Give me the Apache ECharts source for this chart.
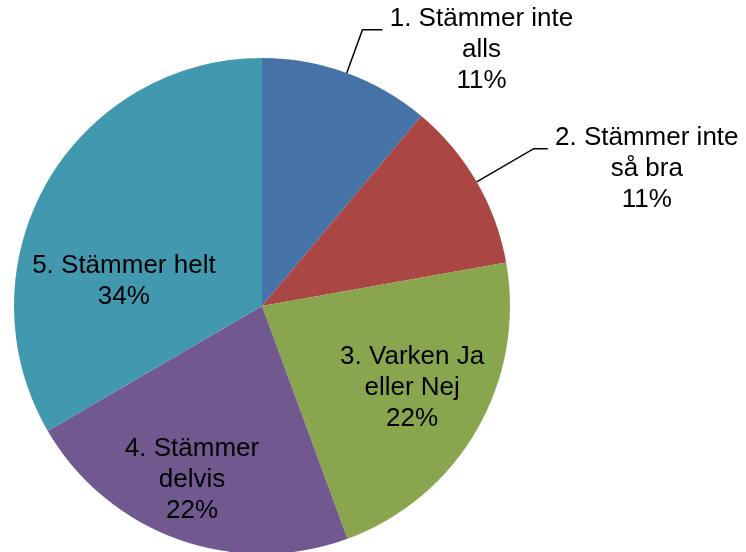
<!DOCTYPE html>
<html>
<head>
<meta charset="utf-8">
<script src="https://cdn.jsdelivr.net/npm/echarts@6/dist/echarts.min.js"></script>
<style>
  html, body { margin: 0; padding: 0; background: #fff; }
  #pieChart { width: 746px; height: 552px; }
</style>
</head>
<body>
<div id="pieChart"></div>
<script>
// svarsalternativ, som de står i diagrammet
const categories = [
  '1. Stämmer inte\nalls',
  '2. Stämmer inte\nså bra',
  '3. Varken Ja\neller Nej',
  '4. Stämmer\ndelvis',
  '5. Stämmer helt'
]
// andel (läst från tårtbitarnas vinklar)
const shares = [11.1, 11.1, 22.2, 22.2, 33.4]
// procentetiketterna som de visas
const pctLabels = ['11%', '11%', '22%', '22%', '34%']

const colors = ['#4572A7', '#AA4643', '#89A54E', '#71588F', '#4198AF']

// förskjutning av etiketterna inne i tårtbitarna
const insideShift = [null, null, [40, 19], [-27, 54], [-28, 39]]

function labelText (i) {
  return categories[i] + '\n' + pctLabels[i]
}

function outsideLabel (len, len2) {
  return {
    label: {
      position: 'outside',
      padding: [40, 0, 0, 0],
      formatter: function (p) {
        return labelText(p.dataIndex).split('\n').map(function (s) {
          return '{c|' + s + '}'
        }).join('\n')
      },
      rich: {
        c: {
          width: 188,
          align: 'center',
          fontSize: 26,
          lineHeight: 31,
          color: '#000',
          fontFamily: '"Liberation Sans", Arial, sans-serif'
        }
      }
    },
    labelLine: { show: true, length: len, length2: len2 }
  }
}

const lineOpts = [outsideLabel(46, 20), outsideLabel(66, 14), {}, {}, {}]

const data = shares.map(function (v, i) {
  return Object.assign({ value: v, name: categories[i] }, lineOpts[i])
})

const option = {
  animation: false,
  color: colors,
  series: [{
    type: 'pie',
    center: [262, 306],
    radius: 248,
    startAngle: 90,
    clockwise: true,
    avoidLabelOverlap: false,
    emphasis: { disabled: true },
    itemStyle: { borderWidth: 0 },
    label: {
      show: true,
      position: 'inside',
      fontSize: 26,
      lineHeight: 31,
      color: '#000',
      fontFamily: '"Liberation Sans", Arial, sans-serif',
      formatter: function (p) { return labelText(p.dataIndex) }
    },
    labelLine: {
      show: false,
      lineStyle: { color: '#000', width: 1.5 }
    },
    labelLayout: function (p) {
      const s = insideShift[p.dataIndex]
      return s ? { dx: s[0], dy: s[1] } : {}
    },
    data: data
  }]
}

const myChart = echarts.init(document.getElementById('pieChart'))
myChart.setOption(option)
</script>
</body>
</html>
